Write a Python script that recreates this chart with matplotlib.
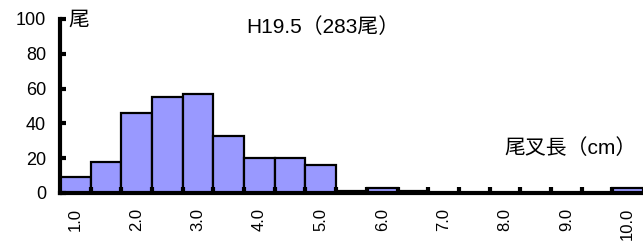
import matplotlib.pyplot as plt
import numpy as np

plt.rcParams['font.family'] = ['Liberation Sans', 'Noto Sans CJK JP']

# fork length classes (cm) and counts
classes = ['1.0', '1.5', '2.0', '2.5', '3.0', '3.5', '4.0', '4.5', '5.0', '5.5',
           '6.0', '6.5', '7.0', '7.5', '8.0', '8.5', '9.0', '9.5', '10.0']
counts = [9, 18, 46, 55, 57, 33, 20, 20, 16, 1,
          3, 1, 0, 0, 0, 0, 0, 0, 3]

fig = plt.figure(figsize=(6.43, 2.43), dpi=100)
ax = fig.add_axes([0.0933, 0.206, 0.9067, 0.716])

x = np.arange(len(classes))
ax.bar(x, counts, width=1.0, color='#9999FF', edgecolor='black', linewidth=1.6)

ax.set_xlim(-0.5, len(classes) - 0.5)
ax.set_ylim(0, 100)

# spines
for s in ['top', 'right']:
    ax.spines[s].set_visible(False)
ax.spines['left'].set_linewidth(3)
ax.spines['bottom'].set_linewidth(3)

# y ticks
ax.set_yticks([0, 20, 40, 60, 80, 100])
ax.tick_params(axis='y', direction='in', length=4, width=3, labelsize=13, pad=10)

# x ticks at bin edges, labels every 1cm
ax.set_xticks(x[:-1] + 0.5)
ax.set_xticklabels([])
ax.tick_params(axis='x', which='major', direction='in', length=4, width=3)
ax.set_xticks(x[::2], minor=True)
ax.set_xticklabels(classes[::2], minor=True, rotation=90)
ax.tick_params(axis='x', which='minor', length=0, labelsize=12, pad=11)

fig.text(0.107, 0.918, '尾', fontsize=15, ha='left', va='center')
fig.text(0.502, 0.889, 'H19.5（283尾）', fontsize=15, ha='center', va='center')
fig.text(0.99, 0.39, '尾叉長（cm）', fontsize=15, ha='right', va='center')

plt.savefig('out.png', dpi=100)
